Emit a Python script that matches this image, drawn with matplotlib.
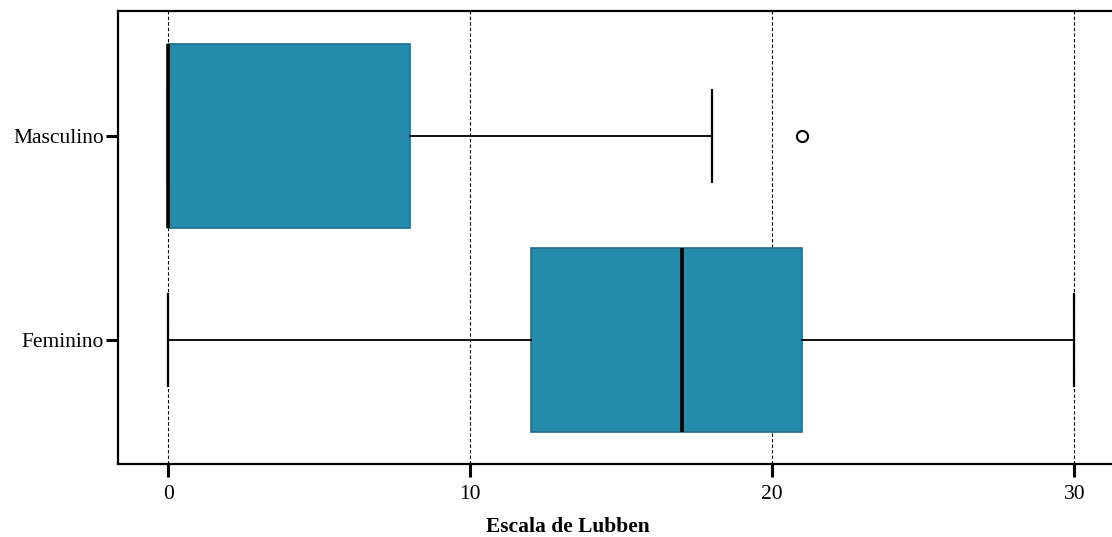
import matplotlib
matplotlib.use("Agg")
import matplotlib.pyplot as plt

# Five-number summaries of the Lubben social network scale by sex
groups = ["Feminino", "Masculino"]
whisker_low = [0, 0]
q1 = [12, 0]
median = [17, 0]
q3 = [21, 8]
whisker_high = [30, 18]
outliers = [[], [21]]

x_ticks = [0, 10, 20, 30]

plt.rcParams["font.family"] = ["Liberation Serif", "DejaVu Serif"]

fig = plt.figure(figsize=(11.12, 5.37), dpi=100)
ax = fig.add_axes([118 / 1112, 73 / 537, 1 - 118 / 1112, 453 / 537])

stats = []
for i, name in enumerate(groups):
    stats.append(dict(label=name, whislo=whisker_low[i], q1=q1[i], med=median[i],
                      q3=q3[i], whishi=whisker_high[i], fliers=outliers[i]))

ax.bxp(stats, positions=range(len(groups)), vert=False, widths=0.9,
       patch_artist=True, showcaps=True,
       boxprops=dict(facecolor="#248BAD", edgecolor="#1E6F8A", linewidth=1.2),
       medianprops=dict(color="black", linewidth=2.6),
       whiskerprops=dict(color="black", linewidth=1.3),
       capprops=dict(color="black", linewidth=1.6),
       capwidths=0.45,
       flierprops=dict(marker="o", markersize=8, markerfacecolor="white",
                       markeredgecolor="black", markeredgewidth=1.5))

ax.set_ylim(-0.608, 1.613)
ax.set_xlim(-1.66, 31.25)
ax.set_xticks(x_ticks)
ax.set_xticklabels([str(t) for t in x_ticks])
ax.set_yticks(range(len(groups)))
ax.set_yticklabels(groups)

ax.xaxis.grid(True, linestyle=(0, (3, 2)), color="black", linewidth=0.8)
ax.set_axisbelow(True)

for side in ["left", "top", "bottom"]:
    ax.spines[side].set_linewidth(1.6)
ax.spines["right"].set_visible(False)

ax.tick_params(axis="both", direction="out", length=9, width=2.2,
               labelsize=15.5, pad=6)
ax.tick_params(axis="y", pad=1)

ax.set_xlabel("Escala de Lubben", fontsize=15.5, fontweight="bold", va="top")
ax.xaxis.set_label_coords(0.4527, -0.117)

fig.savefig("out.png", dpi=100)
